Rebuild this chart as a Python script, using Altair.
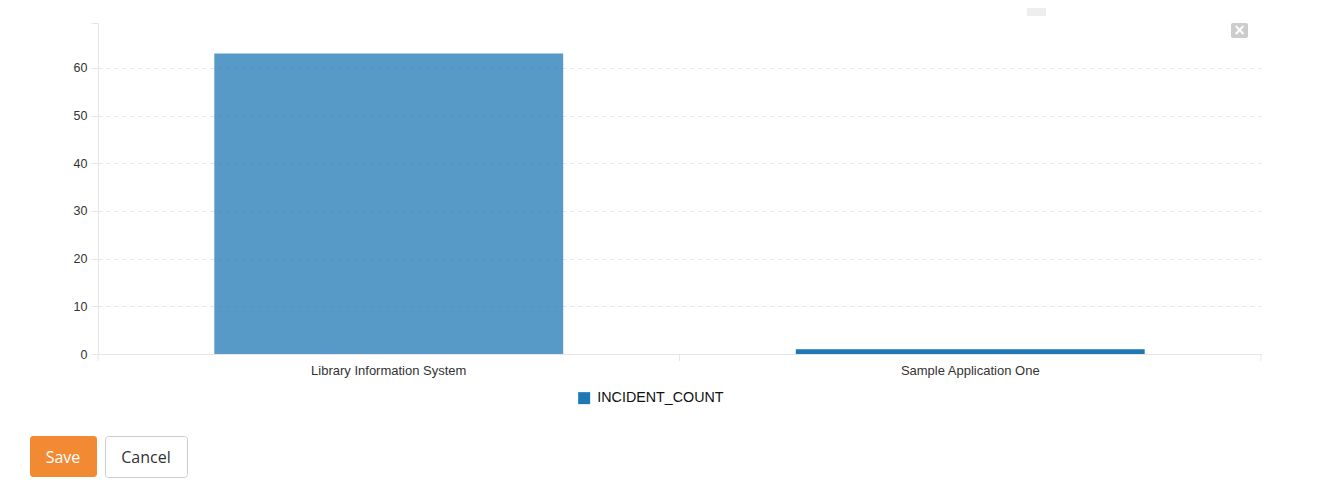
import altair as alt
import pandas as pd

apps = ["Library Information System", "Sample Application One"]
counts = [63, 1]
series = ["INCIDENT_COUNT", "INCIDENT_COUNT"]
y_ticks = [0, 10, 20, 30, 40, 50, 60, 69.4]

df = pd.DataFrame({"app": apps, "count": counts, "series": series})

FONT = "Liberation Sans"
GRID = "#e6e6e6"

bars = alt.Chart(df).mark_bar().encode(
    x=alt.X("app:N", sort=apps, title=None,
            scale=alt.Scale(paddingInner=0.4, paddingOuter=0.2),
            axis=alt.Axis(labelAngle=0, ticks=False, domainColor=GRID,
                          labelPadding=10,
                          labelFontSize=13, labelFont=FONT, labelColor="#333")),
    y=alt.Y("count:Q", title=None,
            scale=alt.Scale(domain=[0, 69.4], nice=False),
            axis=alt.Axis(values=y_ticks, domainColor=GRID, tickColor=GRID,
                          tickSize=7, labelPadding=4, labelFontSize=12.5,
                          labelFont=FONT, labelColor="#333",
                          labelExpr="datum.value > 65 ? '' : datum.label",
                          grid=True, gridDash=[4, 4], gridColor=GRID,
                          gridOpacity={"condition": {"test": "datum.value > 65 || datum.value == 0", "value": 0}, "value": 1})),
    color=alt.Color("series:N", scale=alt.Scale(range=["#1f77b4"]),
                    legend=alt.Legend(orient="none", legendX=479, legendY=368,
                                      title=None, symbolType="square", symbolSize=144,
                                      symbolStrokeWidth=0, labelFontSize=14.3,
                                      labelFont=FONT, labelColor="#111",
                                      padding=0, labelOffset=6)),
    opacity=alt.condition(alt.datum.app == apps[0], alt.value(0.75), alt.value(1.0)),
)

one = pd.DataFrame({"k": [0]})
base = alt.Chart(one)

# x-axis ticks at the category step boundaries
xticks = pd.DataFrame({"p": [0, 581.5, 1163]})
xtick_rules = alt.Chart(xticks).mark_rule(color=GRID).encode(
    x=alt.X("p:Q", scale=None), y=alt.value(331), y2=alt.value(338))

save_btn = base.mark_rect(color="#f28a33", cornerRadius=3).encode(
    x=alt.value(-68), x2=alt.value(-1), y=alt.value(413), y2=alt.value(454))
save_txt = base.mark_text(text="Save", color="white", fontSize=16, font="Open Sans").encode(
    x=alt.value(-35), y=alt.value(435))
cancel_btn = base.mark_rect(fill="white", stroke="#cccccc", strokeWidth=1, cornerRadius=3).encode(
    x=alt.value(7.5), x2=alt.value(89.5), y=alt.value(413.5), y2=alt.value(454.5))
cancel_txt = base.mark_text(text="Cancel", color="#333", fontSize=16, font="Open Sans").encode(
    x=alt.value(48), y=alt.value(435))
close_box = base.mark_rect(color="#cccccc", cornerRadius=2).encode(
    x=alt.value(1133), x2=alt.value(1150), y=alt.value(0), y2=alt.value(15))
close_txt = base.mark_text(text="×", color="white", fontSize=15, fontWeight="bold", font="DejaVu Sans").encode(
    x=alt.value(1141.5), y=alt.value(7))
chev_box = base.mark_rect(color="#eeeeee").encode(
    x=alt.value(929), x2=alt.value(948), y=alt.value(-15), y2=alt.value(-7))

chart = alt.layer(bars, xtick_rules, save_btn, save_txt, cancel_btn, cancel_txt,
                  close_box, close_txt, chev_box).properties(
    width=1163, height=331,
    background="white",
    autosize=alt.AutoSizeParams(type="none"),
    padding={"left": 90, "top": 15, "right": 70, "bottom": 128},
).configure_view(stroke=None)

chart.save("out.html", embed_options={"renderer": "svg", "actions": False})
